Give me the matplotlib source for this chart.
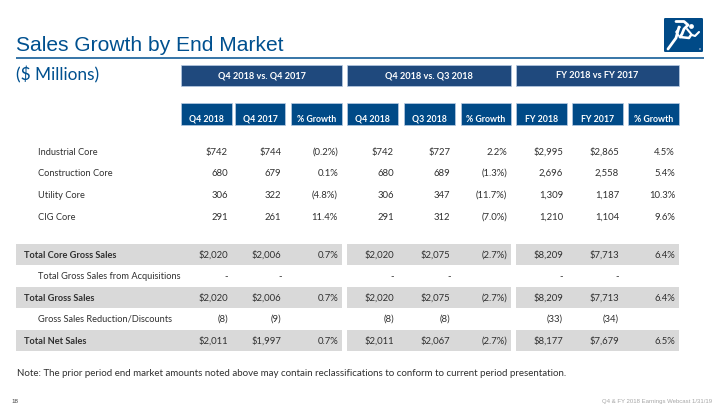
import matplotlib
matplotlib.use("Agg")
import matplotlib.pyplot as plt
from matplotlib.patches import Rectangle, Circle, FancyBboxPatch

TITLE = "Sales Growth by End Market"
SUBTITLE = "($ Millions)"
GROUPS = ["Q4 2018 vs. Q4 2017", "Q4 2018 vs. Q3 2018", "FY 2018 vs FY 2017"]
HEADERS = ["Q4 2018", "Q4 2017", "% Growth", "Q4 2018", "Q3 2018", "% Growth", "FY 2018", "FY 2017", "% Growth"]
ROW_LABELS = ["Industrial Core", "Construction Core", "Utility Core", "CIG Core",
              "Total Core Gross Sales", "Total Gross Sales from Acquisitions", "Total Gross Sales",
              "Gross Sales Reduction/Discounts", "Total Net Sales"]
INDUSTRIAL = ["$742", "$744", "(0.2%)", "$742", "$727", "2.2%", "$2,995", "$2,865", "4.5%"]
CONSTRUCTION = ["680", "679", "0.1%", "680", "689", "(1.3%)", "2,696", "2,558", "5.4%"]
UTILITY = ["306", "322", "(4.8%)", "306", "347", "(11.7%)", "1,309", "1,187", "10.3%"]
CIG = ["291", "261", "11.4%", "291", "312", "(7.0%)", "1,210", "1,104", "9.6%"]
CORE_TOTAL = ["$2,020", "$2,006", "0.7%", "$2,020", "$2,075", "(2.7%)", "$8,209", "$7,713", "6.4%"]
ACQUISITIONS = ["-", "-", "", "-", "-", "", "-", "-", ""]
GROSS_TOTAL = ["$2,020", "$2,006", "0.7%", "$2,020", "$2,075", "(2.7%)", "$8,209", "$7,713", "6.4%"]
REDUCTIONS = ["(8)", "(9)", "", "(8)", "(8)", "", "(33)", "(34)", ""]
NET_TOTAL = ["$2,011", "$1,997", "0.7%", "$2,011", "$2,067", "(2.7%)", "$8,177", "$7,679", "6.5%"]
ROWS = [INDUSTRIAL, CONSTRUCTION, UTILITY, CIG, CORE_TOTAL, ACQUISITIONS, GROSS_TOTAL, REDUCTIONS, NET_TOTAL]
NOTE = "Note: The prior period end market amounts noted above may contain reclassifications to conform to current period presentation."
PAGE = "18"
FOOTER = "Q4 & FY 2018 Earnings Webcast 1/31/19"

row_y = [152, 173, 195, 217, 255, 276, 298, 319, 341]
label_x = [38, 38, 38, 38, 24, 38, 24, 38, 24]
value_x = [228, 281.5, 338, 394, 450.5, 507, 563, 619, 675]
hdr_x = [(181, 231.5), (235, 285), (291, 342), (347, 398), (404, 454.5), (460.5, 511), (516, 567), (572, 622.5), (628, 679)]
grp_x = [(181, 342), (347, 511), (516, 679)]
shaded = {4, 6, 8}
bold = {4, 6, 8}

BLUE = "#004a87"
DARK = "#1f497d"
GRAY = "#d9d9d9"
EDGE = "#b8cce4"
TXT = "#303030"
BODY = "Lato"

fig = plt.figure(figsize=(7.2, 4.05), dpi=100)
ax = fig.add_axes([0, 0, 1, 1])
ax.set_xlim(0, 720)
ax.set_ylim(405, 0)
ax.axis("off")

ax.text(16, 51, TITLE, family="Liberation Sans", fontsize=15.1, color="#00508f", va="baseline", ha="left")
ax.plot([16, 704], [58, 58], color="#00508f", lw=1.1, solid_capstyle="butt")
ax.text(16, 80, SUBTITLE, family=BODY, fontsize=12.4, color="#00508f", va="baseline", ha="left")

# logo
ax.add_patch(FancyBboxPatch((664, 18), 39, 34, boxstyle="round,pad=0,rounding_size=1.2", fc=BLUE, ec="none"))
for xs, ys, w in [([676, 684, 688, 684, 682, 680], [21.5, 21.5, 25, 29, 34, 37], 2.0),
                  ([687, 692, 695, 699], [29, 35, 36, 32], 1.5),
                  ([679, 676, 668], [27, 38, 49], 2.0),
                  ([680, 689, 691], [37, 38, 35], 1.8),
                  ([680, 676, 679], [27, 32, 36], 1.2)]:
    ax.plot(xs, ys, color="white", lw=w, solid_capstyle="round", solid_joinstyle="round")
ax.add_patch(Circle((691.5, 26.5), 2.4, fc="white", ec="none"))
ax.add_patch(Circle((700, 49), 1.0, fc="#7f9fc0", ec="none"))

for (x0, x1), s in zip(grp_x, GROUPS):
    ax.add_patch(Rectangle((x0, 65), x1 - x0, 21, fc=DARK, ec=EDGE, lw=0.5))
    ax.text((x0 + x1) / 2, 78, s, family=BODY, fontsize=6.6, fontweight="bold", color="white", ha="center", va="baseline")
for (x0, x1), s in zip(hdr_x, HEADERS):
    ax.add_patch(Rectangle((x0, 103), x1 - x0, 21.5, fc=BLUE, ec=EDGE, lw=0.5))
    ax.text((x0 + x1) / 2, 121.5, s, family=BODY, fontsize=6.3, fontweight="bold", color="white", ha="center", va="baseline")

for i, (label, y, lx, vals) in enumerate(zip(ROW_LABELS, row_y, label_x, ROWS)):
    if i in shaded:
        ax.add_patch(Rectangle((16, y - 11.5), 326, 21.5, fc=GRAY, ec="none"))
        ax.add_patch(Rectangle((347, y - 11.5), 164, 21.5, fc=GRAY, ec="none"))
        ax.add_patch(Rectangle((516, y - 11.5), 163, 21.5, fc=GRAY, ec="none"))
    ax.text(lx, y + 3, label, family=BODY, fontsize=6.7, color=TXT, ha="left", va="baseline",
            fontweight="bold" if i in bold else "normal")
    for x, v in zip(value_x, vals):
        ax.text(x, y + 3, v, family=BODY, fontsize=6.8, color=TXT, ha="right", va="baseline")

ax.text(17, 376, NOTE, family=BODY, fontsize=7.0, color=TXT, ha="left", va="baseline")
ax.text(11, 403, PAGE, family="Liberation Sans", fontsize=4.5, color="#404040", ha="left", va="baseline")
ax.text(712, 403, FOOTER, family="Liberation Sans", fontsize=4.3, color="#a6a6a6", ha="right", va="baseline")

fig.savefig("out.png", dpi=100)
